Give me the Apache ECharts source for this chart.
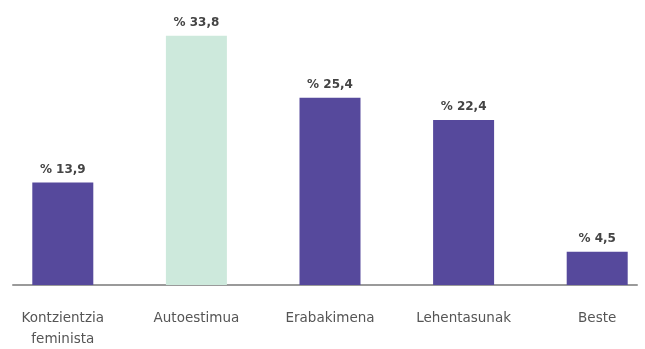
<!DOCTYPE html>
<html>
<head>
<meta charset="utf-8">
<script src="https://cdn.jsdelivr.net/npm/echarts@6/dist/echarts.min.js"></script>
<style>
html,body{margin:0;padding:0;background:#fff;}
#c{width:645px;height:349px;}
</style>
</head>
<body>
<div id="c"></div>
<script>
const categories = ["Kontzientzia feminista", "Autoestimua", "Erabakimena", "Lehentasunak", "Beste"];
const values = [13.9, 33.8, 25.4, 22.4, 4.5];
const highlightIndex = 1;

const chart = echarts.init(document.getElementById('c'), null, {renderer: 'canvas'});
chart.setOption({
  animation: false,
  backgroundColor: '#ffffff',
  grid: [
    {left: -4, right: -19, top: 27, bottom: 64, containLabel: false, outerBoundsMode: 'none'},
    {left: 13, right: 8, top: 27, bottom: 64, containLabel: false, outerBoundsMode: 'none'}
  ],
  xAxis: [
    {
      type: 'category', gridIndex: 0, data: categories,
      axisLine: {show: false}, axisTick: {show: false},
      axisLabel: {
        margin: 23, color: '#555555', fontFamily: 'DejaVu Sans', fontSize: 13.5, lineHeight: 21,
        formatter: v => v.replace(' ', '\n')
      }
    },
    {
      type: 'category', gridIndex: 1, data: [''],
      axisLine: {show: true, lineStyle: {color: '#9a9a9a', width: 2}},
      axisTick: {show: false}, axisLabel: {show: false}
    }
  ],
  yAxis: [
    {type: 'value', gridIndex: 0, min: 0, max: 35, show: false},
    {type: 'value', gridIndex: 1, min: 0, max: 35, show: false}
  ],
  series: [{
    type: 'bar', xAxisIndex: 0, yAxisIndex: 0,
    barWidth: 61,
    data: values.map((v, i) => ({
      value: v,
      itemStyle: {color: i === highlightIndex ? '#cde9dc' : '#56499c'}
    })),
    label: {
      show: true, position: 'top', distance: 7,
      color: '#444444', fontFamily: 'DejaVu Sans', fontSize: 12, fontWeight: 'bold',
      formatter: p => '% ' + String(p.value).replace('.', ',')
    }
  }]
});
</script>
</body>
</html>
